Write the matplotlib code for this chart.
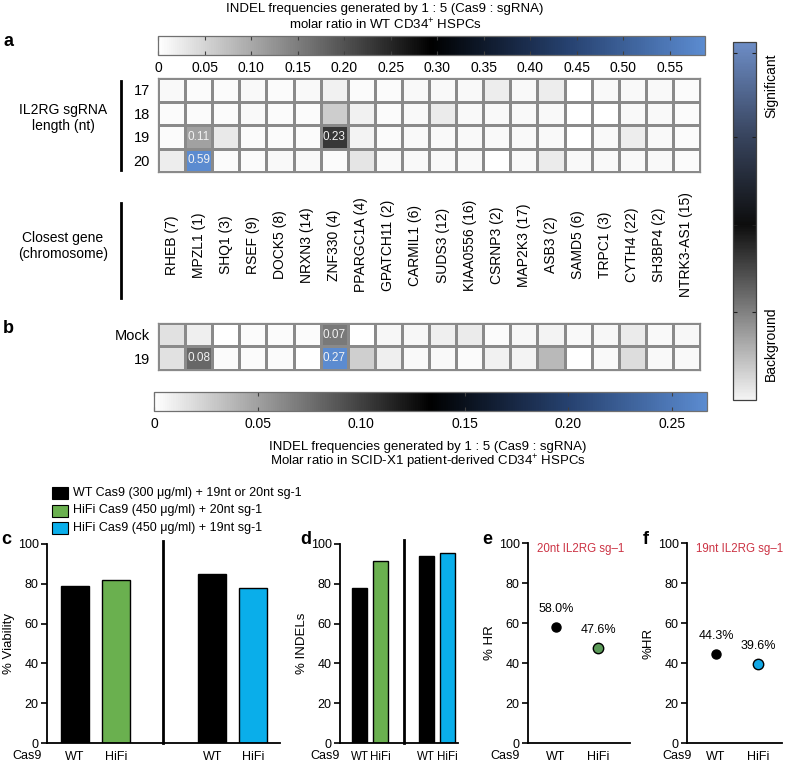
import numpy as np
import matplotlib
matplotlib.use('Agg')
import matplotlib.pyplot as plt
import matplotlib.transforms as mtransforms
from matplotlib.colors import LinearSegmentedColormap, Normalize
from matplotlib.cm import ScalarMappable
from matplotlib.patches import Rectangle

plt.rcParams['font.family'] = ['Liberation Sans', 'DejaVu Sans']
plt.rcParams['mathtext.fontset'] = 'custom'
plt.rcParams['mathtext.rm'] = 'Liberation Sans'
plt.rcParams['mathtext.default'] = 'regular'

# ---- data ----
genes = ['RHEB (7)', 'MPZL1 (1)', 'SHQ1 (3)', 'RSEF (9)', 'DOCK5 (8)', 'NRXN3 (14)',
         'ZNF330 (4)', 'PPARGC1A (4)', 'GPATCH11 (2)', 'CARMIL1 (6)', 'SUDS3 (12)',
         'KIAA0556 (16)', 'CSRNP3 (2)', 'MAP2K3 (17)', 'ASB3 (2)', 'SAMD5 (6)',
         'TRPC1 (3)', 'CYTH4 (22)', 'SH3BP4 (2)', 'NTRK3-AS1 (15)']
rows_a = ['17', '18', '19', '20']
indel_17 = [0.009, 0.006, 0.006, 0.009, 0.006, 0.009, 0.018, 0.006, 0.006, 0.009,
            0.009, 0.009, 0.021, 0.009, 0.021, 0.0, 0.009, 0.009, 0.009, 0.006]
indel_18 = [0.006, 0.006, 0.006, 0.009, 0.006, 0.006, 0.059, 0.018, 0.006, 0.009,
            0.024, 0.009, 0.009, 0.009, 0.009, 0.0, 0.0, 0.009, 0.009, 0.006]
indel_19 = [0.006, 0.11, 0.027, 0.006, 0.006, 0.006, 0.23, 0.015, 0.006, 0.009,
            0.009, 0.009, 0.009, 0.009, 0.009, 0.0, 0.009, 0.021, 0.009, 0.006]
indel_20 = [0.021, 0.59, 0.006, 0.006, 0.009, 0.009, 0.006, 0.03, 0.009, 0.009,
            0.009, 0.009, 0.0, 0.009, 0.024, 0.009, 0.009, 0.009, 0.009, 0.006]
rows_b = ['Mock', '19']
scid_mock = [0.016, 0.009, 0.0, 0.003, 0.003, 0.003, 0.07, 0.0, 0.005, 0.005,
             0.009, 0.011, 0.003, 0.005, 0.007, 0.004, 0.005, 0.011, 0.004, 0.005]
scid_19 = [0.016, 0.08, 0.003, 0.003, 0.003, 0.001, 0.27, 0.026, 0.009, 0.004,
           0.004, 0.003, 0.008, 0.007, 0.037, 0.0, 0.004, 0.018, 0.004, 0.004]

cas9_labels = ['WT', 'HiFi', 'WT', 'HiFi']
viability = [79, 82, 85, 78]
indels = [78, 91.5, 94, 95.5]
hr_20nt = [58.0, 47.6]
hr_19nt = [44.3, 39.6]
legend_labels = ['WT Cas9 (300 \u03bcg/ml) + 19nt or 20nt sg-1',
                 'HiFi Cas9 (450 \u03bcg/ml) + 20nt sg-1',
                 'HiFi Cas9 (450 \u03bcg/ml) + 19nt sg-1']

BLACK, GREEN, BLUE = '#000000', '#6ab04f', '#0aaeea'
GRID = '#8a8a8a'
TICK_FS = 9

W, H = 786, 763


def box(x0, y0, x1, y1):
    # pixel box (top-left origin) -> figure fraction
    return [x0 / W, 1 - y1 / H, (x1 - x0) / W, (y1 - y0) / H]


def ftext(x, y, s, **kw):
    fig.text(x / W, 1 - y / H, s, **kw)


cmap = LinearSegmentedColormap.from_list(
    'wkb', [(0, '#ffffff'), (0.5, '#000000'), (0.75, '#26416f'), (1, '#5b8bd0')])
cmap_sig = LinearSegmentedColormap.from_list(
    'sig', [(0, '#f4f4f4'), (0.49, '#0d0d0d'), (0.75, '#3a4762'), (1, '#6d8dc6')])

fig = plt.figure(figsize=(W / 100, H / 100), dpi=100)


def heatmap(ax, data, rows, vmax):
    ax.pcolormesh(np.arange(len(genes) + 1), np.arange(len(rows) + 1), data,
                  cmap=cmap, vmin=0, vmax=vmax, edgecolors=GRID, linewidth=0.8)
    ax.set_xlim(0, len(genes))
    ax.set_ylim(len(rows), 0)
    ax.set_xticks([])
    ax.set_yticks(np.arange(len(rows)) + 0.5)
    ax.set_yticklabels(rows, fontsize=10.5)
    ax.tick_params(axis='y', length=0, pad=6)
    for s in ax.spines.values():
        s.set_edgecolor(GRID)
        s.set_linewidth(0.9)
    for r in range(len(rows)):
        for c in range(len(genes)):
            if data[r][c] >= 0.07:
                ax.text(c + 0.5, r + 0.5, f'{data[r][c]:.2f}', ha='center',
                        va='center', color='#f2f2f2', fontsize=8.5)


def hcolorbar(cax, vmax, ticks):
    cb = fig.colorbar(ScalarMappable(Normalize(0, vmax), cmap), cax=cax,
                      orientation='horizontal')
    cb.set_ticks(ticks)
    cb.set_ticklabels(['0'] + [f'{t:.2f}' for t in ticks[1:]])
    cb.outline.set_edgecolor('#707070')
    cb.outline.set_linewidth(0.9)
    cax.tick_params(direction='in', top=True, bottom=True, length=3,
                    width=0.8, color='#404040', labelsize=10, pad=4)
    return cb


# ---- panel a ----
data_a = np.array([indel_17, indel_18, indel_19, indel_20])
ax_a = fig.add_axes(box(158, 78, 700, 172))
heatmap(ax_a, data_a, rows_a, 0.588)

cax_a = fig.add_axes(box(158, 36, 705, 55))
hcolorbar(cax_a, 0.588, np.arange(0, 0.56, 0.05))
ftext(385, 9, 'INDEL frequencies generated by 1 : 5 (Cas9 : sgRNA)',
      ha='center', va='center', fontsize=9.5)
ftext(385, 25, 'molar ratio in WT CD34$^{+}$ HSPCs', ha='center', va='center',
      fontsize=9.5)

ftext(63, 118, 'IL2RG sgRNA\nlength (nt)', ha='center', va='center', fontsize=10)
ftext(63, 246, 'Closest gene\n(chromosome)', ha='center', va='center', fontsize=10)
fig.add_artist(plt.Line2D([121 / W] * 2, [1 - 81 / H, 1 - 170 / H], color='k', lw=2))
fig.add_artist(plt.Line2D([121 / W] * 2, [1 - 203 / H, 1 - 298 / H], color='k', lw=2))

trans = mtransforms.blended_transform_factory(ax_a.transData, fig.transFigure)
for i, g in enumerate(genes):
    ax_a.text(i + 0.5, 1 - 245 / H, g, transform=trans, rotation=90,
              ha='center', va='center', fontsize=10)

# ---- panel b ----
data_b = np.array([scid_mock, scid_19])
ax_b = fig.add_axes(box(158, 323, 700, 370))
heatmap(ax_b, data_b, rows_b, 0.267)

cax_b = fig.add_axes(box(154, 392, 707, 411))
hcolorbar(cax_b, 0.267, np.arange(0, 0.26, 0.05))
ftext(428, 447, 'INDEL frequencies generated by 1 : 5 (Cas9 : sgRNA)',
      ha='center', va='center', fontsize=9.5)
ftext(428, 462, 'Molar ratio in SCID-X1 patient-derived CD34$^{+}$ HSPCs',
      ha='center', va='center', fontsize=9.5)

# significance bar on the right
cax_s = fig.add_axes(box(733, 42, 756, 400))
cb_s = fig.colorbar(ScalarMappable(Normalize(0, 1), cmap_sig), cax=cax_s)
cb_s.set_ticks([0.246, 0.49, 0.735, 0.97])
cb_s.set_ticklabels([])
cb_s.outline.set_edgecolor('#404040')
cb_s.outline.set_linewidth(0.9)
cax_s.tick_params(direction='in', left=True, right=True, length=3, width=0.8,
                  color='#202020')
ftext(771, 86, 'Significant', rotation=90, ha='center', va='center', fontsize=10)
ftext(771, 344, 'Background', rotation=90, ha='center', va='center', fontsize=10)

for lab, (x, y) in zip('abcdef', [(8, 42), (8, 328), (6, 540), (306, 540),
                                  (487, 540), (646, 540)]):
    ftext(x, y, lab, ha='center', va='center', fontsize=13, fontweight='bold')

# ---- legend ----
for k, (lab, col) in enumerate(zip(legend_labels, [BLACK, GREEN, BLUE])):
    yc = 493 + 17.5 * k
    fig.add_artist(Rectangle((52 / W, 1 - (yc + 6) / H), 16 / W, 12 / H,
                             facecolor=col, edgecolor='k', lw=0.8,
                             transform=fig.transFigure))
    ftext(73, yc, lab, ha='left', va='center', fontsize=9)


def style_axes(ax):
    for s in ['top', 'right']:
        ax.spines[s].set_visible(False)
    for s in ['left', 'bottom']:
        ax.spines[s].set_linewidth(1.3)
    ax.set_ylim(0, 100)
    ax.set_yticks(range(0, 101, 20))
    ax.tick_params(axis='y', length=4, width=1.2, labelsize=TICK_FS, pad=2)
    ax.tick_params(axis='x', length=0, labelsize=TICK_FS, pad=6)


# ---- panel c ----
ax_c = fig.add_axes(box(47, 544, 280, 743))
pos_c = [1, 2, 4.35, 5.35]
ax_c.bar(pos_c, viability, width=0.68, color=[BLACK, GREEN, BLACK, BLUE],
         edgecolor='k', linewidth=1)
ax_c.plot([3.15, 3.15], [0, 101.5], color='k', lw=2, clip_on=False)
ax_c.set_xlim(0.32, 6.0)
style_axes(ax_c)
ax_c.set_xticks(pos_c)
ax_c.set_xticklabels(cas9_labels)
ax_c.set_ylabel('% Viability', fontsize=9.5, labelpad=2)
ftext(27, 756, 'Cas9', ha='center', va='center', fontsize=TICK_FS)

# ---- panel d ----
ax_d = fig.add_axes(box(340, 544, 458, 743))
pos_d = [1, 2, 4.25, 5.3]
ax_d.bar(pos_d, indels, width=0.73, color=[BLACK, GREEN, BLACK, BLUE],
         edgecolor='k', linewidth=1)
ax_d.plot([3.17, 3.17], [0, 102], color='k', lw=2, clip_on=False)
ax_d.set_xlim(0.05, 5.8)
style_axes(ax_d)
ax_d.set_xticks(pos_d)
ax_d.set_xticklabels(cas9_labels, fontsize=8.3)
ax_d.set_ylabel('% INDELs', fontsize=9.5, labelpad=2)
ftext(325, 756, 'Cas9', ha='center', va='center', fontsize=TICK_FS)


def hr_panel(box_px, values, hifi_col, title, ylabel, cas9_x, xlim):
    ax = fig.add_axes(box(*box_px))
    xs = [1, 2]
    ax.plot(xs[0], values[0], 'o', color='k', ms=6.5)
    ax.plot(xs[1], values[1], 'o', mfc=hifi_col, mec='k', mew=1, ms=7.5)
    for x, v in zip(xs, values):
        ax.annotate(f'{v:.1f}%', (x, v), xytext=(0, 13), textcoords='offset points',
                    ha='center', va='center', fontsize=9)
    ax.set_xlim(*xlim)
    style_axes(ax)
    ax.set_xticks(xs)
    ax.set_xticklabels(cas9_labels[:2])
    ax.set_ylabel(ylabel, fontsize=9.5, labelpad=2)
    ax.text(0.09, 0.97, title, transform=ax.transAxes, color='#cc3344',
            fontsize=8.3, ha='left', va='center')
    ftext(cas9_x, 756, 'Cas9', ha='center', va='center', fontsize=TICK_FS)
    return ax


hr_panel((528, 543, 630, 743), hr_20nt, '#5b9a58', '20nt IL2RG sg\u20131', '% HR',
         505, (0.333, 2.76))
hr_panel((687, 543, 782, 743), hr_19nt, '#12a8e6', '19nt IL2RG sg\u20131', '%HR',
         677, (0.31, 2.57))

fig.savefig('out.png', dpi=100)
